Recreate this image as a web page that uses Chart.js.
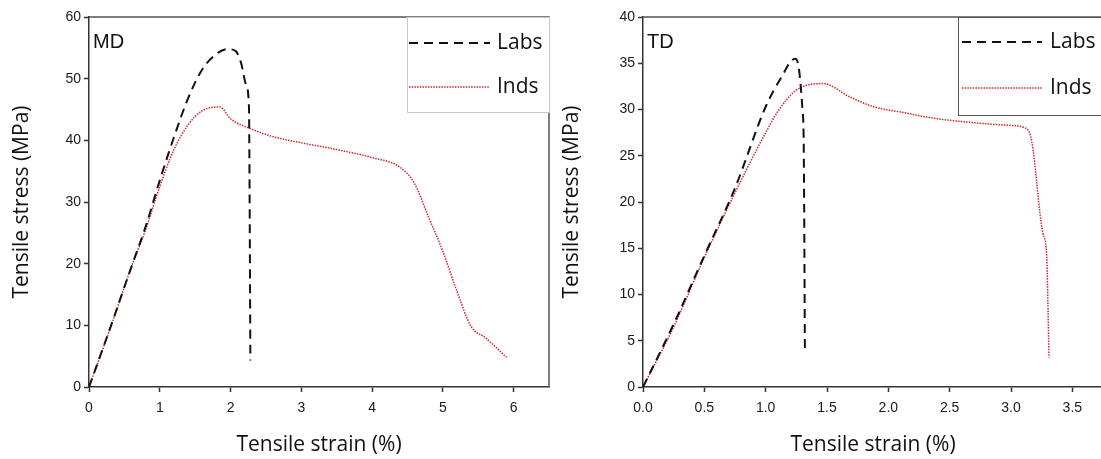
<!DOCTYPE html>
<html>
<head>
<meta charset="utf-8">
<script src="https://cdn.jsdelivr.net/npm/chart.js@4.4.1/dist/chart.umd.min.js"></script>
<style>
  html, body { margin: 0; padding: 0; background: #fff; overflow: hidden; }
  body { width: 1101px; height: 459px; position: relative; }
  .panel { position: absolute; top: 0; height: 459px; }
  #mdBox { left: 0; width: 550px; }
  #tdBox { left: 550px; width: 560px; }
</style>
</head>
<body>
<div class="panel" id="mdBox"><canvas id="mdChart"></canvas></div>
<div class="panel" id="tdBox"><canvas id="tdChart"></canvas></div>
<script>
// Series names
const seriesNames = ['Labs', 'Inds'];

// MD panel (strain %, stress MPa)
const mdLabsStrain = [0, 0.3, 0.6, 0.8, 1.0, 1.2, 1.4, 1.6, 1.8, 1.95, 2.07, 2.15, 2.22, 2.26, 2.27, 2.28];
const mdLabsStress = [0, 9.6, 19.5, 26, 33.5, 40.5, 46.8, 51.5, 54.0, 54.8, 54.5, 52.5, 49, 45.5, 30, 4.3];
const mdIndsStrain = [0, 0.3, 0.6, 0.8, 1.0, 1.2, 1.4, 1.6, 1.85, 2.0, 2.3, 2.6, 3.0, 3.5, 4.0, 4.4, 4.6, 4.8, 5.0, 5.2, 5.4, 5.6, 5.9];
const mdIndsStress = [0, 9.5, 19.5, 25.5, 32.5, 38.5, 42.5, 44.8, 45.4, 43.5, 41.8, 40.6, 39.6, 38.5, 37.2, 35.6, 33, 27.5, 22, 15.5, 9.8, 8, 4.8];

// TD panel
const tdLabsStrain = [0, 0.25, 0.5, 0.75, 1.0, 1.12, 1.24, 1.27, 1.30, 1.31, 1.32];
const tdLabsStress = [0, 6.8, 14.2, 21.5, 30.3, 33.3, 35.5, 34.5, 30, 26.5, 3.6];
const tdIndsStrain = [0, 0.25, 0.5, 0.75, 1.0, 1.1, 1.25, 1.47, 1.68, 1.88, 2.11, 2.4, 2.68, 2.97, 3.13, 3.17, 3.26, 3.29, 3.31];
const tdIndsStress = [0, 6.5, 14, 21, 27.5, 29.8, 32.1, 32.8, 31.4, 30.3, 29.7, 29.0, 28.6, 28.3, 27.9, 26.5, 16.6, 14.4, 3.2];

// Tick labels
const mdStrainTicks = [0, 1, 2, 3, 4, 5, 6];
const mdStressTicks = [0, 10, 20, 30, 40, 50, 60];
const tdStrainTicks = [0, 0.5, 1.0, 1.5, 2.0, 2.5, 3.0, 3.5];
const tdStressTicks = [0, 5, 10, 15, 20, 25, 30, 35, 40];

const titleFont = { family: 'Open Sans', size: 21 };
const tickFont = { family: 'Liberation Sans', size: 14 };

function pairs(xs, ys) {
    return xs.map((x, i) => ({ x: x, y: ys[i] }));
}

function makeDatasets(labsX, labsY, indsX, indsY) {
    return [{
        label: seriesNames[0],
        data: pairs(labsX, labsY),
        borderColor: '#111',
        borderWidth: 2,
        borderDash: [9, 6],
        showLine: true,
        pointRadius: 0,
        cubicInterpolationMode: 'monotone'
    }, {
        label: seriesNames[1],
        data: pairs(indsX, indsY),
        borderColor: '#d02828',
        borderWidth: 1.5,
        borderDash: [1.5, 1.2],
        showLine: true,
        pointRadius: 0,
        cubicInterpolationMode: 'monotone'
    }];
}

// frame, panel tag and legend box
const decor = {
    id: 'decor',
    afterDraw(chart, args, opts) {
        const ctx = chart.ctx;
        const a = chart.chartArea;
        ctx.save();
        // top and right frame
        ctx.strokeStyle = '#555';
        ctx.lineWidth = 1.5;
        ctx.beginPath();
        ctx.moveTo(a.left, a.top);
        ctx.lineTo(a.right, a.top);
        ctx.lineTo(a.right, a.bottom);
        ctx.stroke();

        // panel tag
        ctx.fillStyle = '#111';
        ctx.font = '20px "Liberation Sans"';
        ctx.textBaseline = 'middle';
        ctx.textAlign = 'left';
        ctx.fillText(opts.tag, a.left + 4, 42);

        // legend
        const lg = opts.legend;
        ctx.fillStyle = '#fff';
        ctx.fillRect(lg.x, a.top, lg.w, lg.h);
        ctx.strokeStyle = lg.border;
        ctx.lineWidth = 1;
        ctx.strokeRect(lg.x + 0.5, a.top + 0.5, lg.w, lg.h);
        chart.data.datasets.forEach((ds, i) => {
            const y = lg.rows[i];
            ctx.strokeStyle = ds.borderColor;
            ctx.lineWidth = ds.borderWidth;
            ctx.setLineDash(ds.borderDash);
            ctx.beginPath();
            ctx.moveTo(lg.x + lg.lineStart, y);
            ctx.lineTo(lg.x + lg.lineEnd, y);
            ctx.stroke();
            ctx.setLineDash([]);
            ctx.fillStyle = '#111';
            ctx.font = '21px "Open Sans"';
            ctx.fillText(ds.label, lg.x + lg.textX, y);
        });
        ctx.restore();
    }
};

function makeChart(id, datasets, xMax, yMax, xTicks, yTicks, xFmt, yWidth, padRight, tag, legend) {
    return new Chart(document.getElementById(id), {
        type: 'scatter',
        data: { datasets: datasets },
        plugins: [decor],
        options: {
            responsive: true,
            maintainAspectRatio: false,
            animation: false,
            layout: { padding: { left: 0, top: 17, right: padRight, bottom: 0 } },
            plugins: {
                legend: { display: false },
                tooltip: { enabled: false },
                decor: { tag: tag, legend: legend }
            },
            scales: {
                x: {
                    type: 'linear',
                    min: 0,
                    max: xMax,
                    afterBuildTicks: s => { s.ticks = xTicks.map(v => ({ value: v })); },
                    afterFit: s => { s.height = 72; },
                    border: { color: '#333', width: 1.5 },
                    grid: { drawOnChartArea: false, tickLength: 5, color: '#333', tickWidth: 1.5 },
                    ticks: { font: tickFont, color: '#1a1a1a', padding: 8, maxRotation: 0, callback: xFmt },
                    title: { display: true, text: 'Tensile strain (%)', font: titleFont, color: '#111', padding: { top: 1, bottom: 1 } }
                },
                y: {
                    min: 0,
                    max: yMax,
                    afterBuildTicks: s => { s.ticks = yTicks.map(v => ({ value: v })); },
                    afterFit: s => { s.width = yWidth; },
                    border: { color: '#333', width: 1.5 },
                    grid: { drawOnChartArea: false, tickLength: 5, color: '#333', tickWidth: 1.5 },
                    ticks: { font: tickFont, color: '#1a1a1a', padding: 3 },
                    title: { display: true, text: 'Tensile stress (MPa)', font: titleFont, color: '#111', padding: { top: 9, bottom: 9 } }
                }
            }
        }
    });
}

makeChart('mdChart',
    makeDatasets(mdLabsStrain, mdLabsStress, mdIndsStrain, mdIndsStress),
    6.5, 60, mdStrainTicks, mdStressTicks, v => String(v), 89, 1, 'MD',
    { x: 407, w: 142, h: 95, border: '#c8c8c8', rows: [43, 87], lineStart: 2, lineEnd: 83, textX: 90 });

makeChart('tdChart',
    makeDatasets(tdLabsStrain, tdLabsStress, tdIndsStrain, tdIndsStress),
    3.75, 40, tdStrainTicks, tdStressTicks, v => Number(v).toFixed(1), 93, 7, 'TD',
    { x: 408, w: 160, h: 98, border: '#555', rows: [42, 88], lineStart: 4, lineEnd: 84, textX: 92 });
</script>
</body>
</html>
